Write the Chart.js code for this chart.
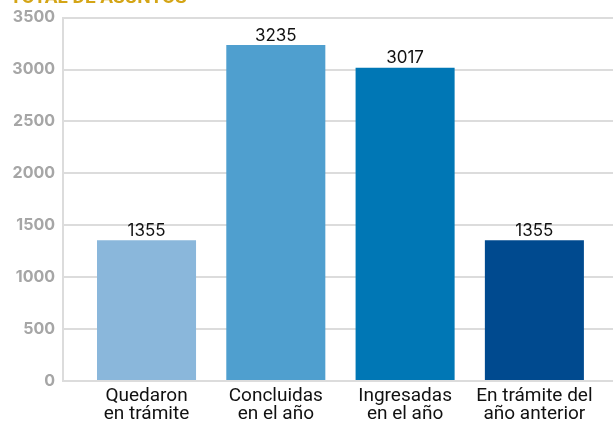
<!DOCTYPE html>
<html>
<head>
<meta charset="utf-8">
<script src="https://cdn.jsdelivr.net/npm/chart.js@4"></script>
<style>
  html, body { margin: 0; padding: 0; background: #fff; }
  #wrap { width: 613px; height: 428px; }
</style>
</head>
<body>
<div id="wrap"><canvas id="grafico"></canvas></div>
<script>
// Datos
const categorias = [['Quedaron', 'en trámite'], ['Concluidas', 'en el año'], ['Ingresadas', 'en el año'], ['En trámite del', 'año anterior']];
const asuntos = [1355, 3235, 3017, 1355];
const colores = ['#8ab7db', '#4f9fcf', '#0077b5', '#004a8f'];
const titulo = 'TOTAL DE ASUNTOS';

const puntos = asuntos.map((v, i) => ({ x: i + 1, y: v }));

// Título cortado arriba y etiquetas de valor
const extras = {
  id: 'extras',
  afterDatasetsDraw(chart) {
    const ctx = chart.ctx;
    ctx.save();
    ctx.fillStyle = '#d4a516';
    ctx.font = 'bold 19px Roboto, "Open Sans", sans-serif';
    ctx.textBaseline = 'alphabetic';
    ctx.textAlign = 'left';
    ctx.fillText(titulo, 10, 3);

    ctx.fillStyle = '#111';
    ctx.font = '17px Inter, "Open Sans", sans-serif';
    ctx.textBaseline = 'bottom';
    ctx.textAlign = 'center';
    chart.getDatasetMeta(0).data.forEach((bar, i) => {
      ctx.fillText(asuntos[i], bar.x, bar.y - 1);
    });
    ctx.restore();
  }
};

new Chart(document.getElementById('grafico'), {
  type: 'bar',
  data: {
    datasets: [{
      data: puntos,
      backgroundColor: colores,
      borderWidth: 0,
      categoryPercentage: 1,
      barPercentage: 0.766
    }]
  },
  options: {
    responsive: true,
    maintainAspectRatio: false,
    animation: false,
    layout: { padding: { top: 16, left: 0, right: 0, bottom: 0 } },
    plugins: { legend: { display: false }, tooltip: { enabled: false } },
    scales: {
      x: {
        type: 'linear',
        offset: false,
        min: 0.354,
        max: 4.608,
        afterBuildTicks(axis) { axis.ticks = categorias.map((c, i) => ({ value: i + 1 })); },
        afterFit(axis) { axis.height = 47; },
        grid: { display: false, drawTicks: false, offset: false },
        border: { color: '#dcdcdc', width: 2 },
        ticks: {
          autoSkip: false,
          maxRotation: 0,
          padding: 7,
          color: '#111',
          font: { family: 'Roboto, sans-serif', size: 19, lineHeight: 0.92 },
          callback: (v) => categorias[Math.round(v) - 1]
        }
      },
      y: {
        min: 0,
        max: 3500,
        afterFit(axis) { axis.width = 63; },
        ticks: {
          stepSize: 500,
          padding: 8,
          color: '#a6a6a6',
          font: { family: 'Inter, "Open Sans", sans-serif', size: 16, weight: 'bold' },
          callback: (v) => String(v)
        },
        grid: { color: '#dcdcdc', lineWidth: 2, drawTicks: false },
        border: { color: '#dcdcdc', width: 2 }
      }
    }
  },
  plugins: [extras]
});
</script>
</body>
</html>
